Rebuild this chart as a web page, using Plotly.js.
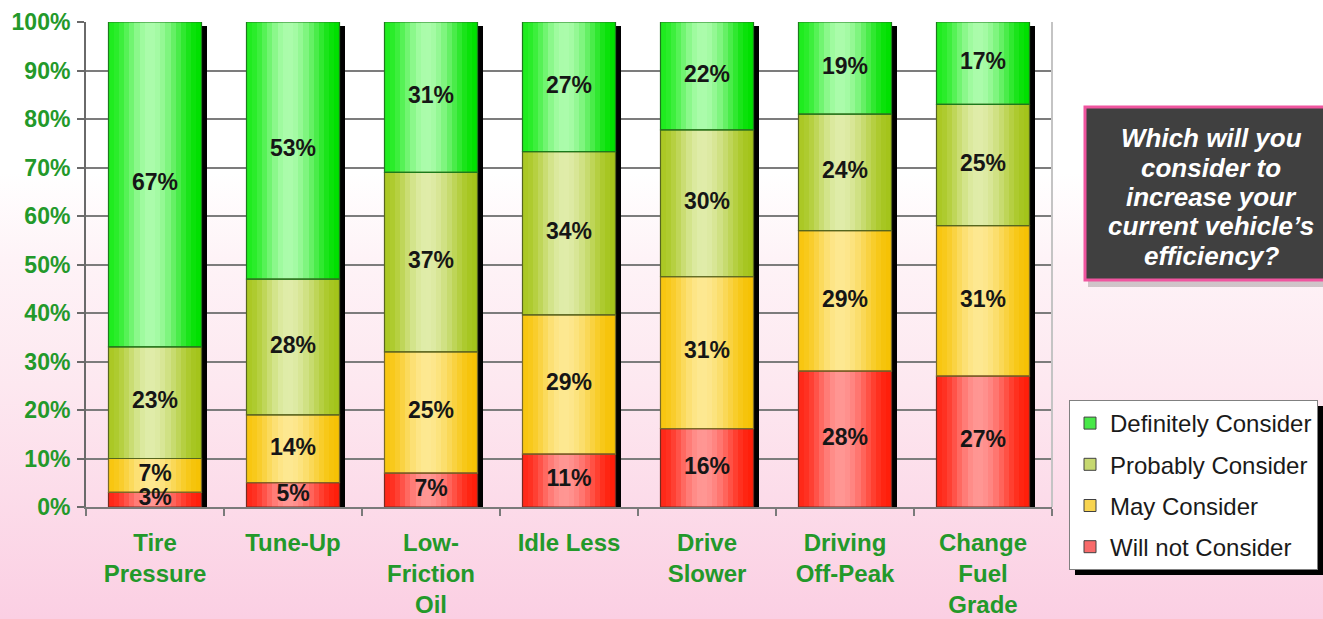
<!DOCTYPE html>
<html>
<head>
<meta charset="utf-8">
<script src="https://cdn.plot.ly/plotly-3.0.1.min.js"></script>
<style>
html, body { margin: 0; padding: 0; width: 1323px; height: 619px; overflow: hidden; }
body { background: linear-gradient(to bottom, #ffffff 0%, #ffffff 28%, #fef3f7 42%, #fde8f0 62%, #fbcfe3 100%); }
#chart { width: 1323px; height: 619px; }
</style>
</head>
<body>
<div id="chart"></div>
<script>
// ---- data ----
const categories = ['Tire<br>Pressure', 'Tune-Up', 'Low-<br>Friction<br>Oil', 'Idle Less', 'Drive<br>Slower', 'Driving<br>Off-Peak', 'Change<br>Fuel<br>Grade'];
const seriesNames = ['Will not Consider', 'May Consider', 'Probably Consider', 'Definitely Consider'];
const willNotConsider = [3, 5, 7, 11, 16, 28, 27];
const mayConsider = [7, 14, 25, 29, 31, 29, 31];
const probablyConsider = [23, 28, 37, 34, 30, 24, 25];
const definitelyConsider = [67, 53, 31, 27, 22, 19, 17];
const yTickValues = [0, 10, 20, 30, 40, 50, 60, 70, 80, 90, 100];
const questionLines = ['Which will you', 'consider to', 'increase your', 'current vehicle\u2019s', 'efficiency?'];

// ---- styles ----
const seriesValues = [willNotConsider, mayConsider, probablyConsider, definitelyConsider];
const gradients = [
  { left: [255, 40, 24], peak: [255, 150, 148], right: [255, 30, 10], line: '#7a2a20', legend: '#f86a6a' },
  { left: [248, 198, 16], peak: [253, 232, 146], right: [246, 194, 4], line: '#7a6a28', legend: '#f8d450' },
  { left: [170, 200, 36], peak: [224, 236, 170], right: [164, 196, 26], line: '#56661e', legend: '#c6d870' },
  { left: [30, 236, 30], peak: [172, 252, 172], right: [0, 224, 0], line: '#1c7a1c', legend: '#48e848' }
];
const FONT = 'Liberation Sans, Arial, sans-serif';
const GREEN_TXT = '#23992a';
const BAR_HALF = 0.337;
const NSTRIP = 18;

const nCat = categories.length;
const totals = categories.map((c, i) => seriesValues.reduce((s, arr) => s + arr[i], 0));
const normalized = seriesValues.map(arr => arr.map((v, i) => v / totals[i] * 100));
const bases = normalized.map((arr, k) => arr.map((v, i) => {
  let b = 0; for (let j = 0; j < k; j++) b += normalized[j][i]; return b;
}));

function mix(a, b, w) {
  return 'rgb(' + a.map((x, i) => Math.round(x + (b[i] - x) * w)).join(',') + ')';
}

const traces = [];

// shadow behind bars
traces.push({
  type: 'bar', x: categories,
  y: categories.map((c, i) => bases[3][i] + normalized[3][i] - 0.9),
  base: categories.map(() => 0),
  offset: BAR_HALF - 0.002, width: 0.045,
  marker: { color: '#000000', line: { width: 0 } },
  hoverinfo: 'skip', showlegend: false
});

// gradient strips
const sw = 2 * BAR_HALF / NSTRIP;
seriesValues.forEach((arr, k) => {
  const g = gradients[k];
  for (let s = 0; s < NSTRIP; s++) {
    const p = (s + 0.5) / NSTRIP;
    const peakPos = 0.45;
    let t, edge;
    if (p < peakPos) { t = p / peakPos; edge = g.left; } else { t = (1 - p) / (1 - peakPos); edge = g.right; }
    const w = Math.sin(t * Math.PI / 2);
    traces.push({
      type: 'bar', x: categories, y: normalized[k], base: bases[k],
      offset: -BAR_HALF + s * sw, width: (s === NSTRIP - 1) ? sw : sw * 1.4,
      marker: { color: mix(edge, g.peak, w * w), line: { width: 0 } },
      hoverinfo: 'skip', showlegend: false
    });
  }
});

// outlines
seriesValues.forEach((arr, k) => {
  traces.push({
    type: 'bar', x: categories, y: normalized[k], base: bases[k],
    offset: -BAR_HALF, width: 2 * BAR_HALF,
    marker: { color: 'rgba(0,0,0,0)', line: { color: gradients[k].line, width: 1.2 } },
    hoverinfo: 'skip', showlegend: false
  });
});

// value labels
seriesValues.forEach((arr, k) => {
  traces.push({
    type: 'scatter', mode: 'text', x: categories,
    y: normalized[k].map((v, i) => bases[k][i] + v / 2),
    text: arr.map(v => v + '%'),
    textposition: 'middle center',
    textfont: { family: FONT, size: 23, color: '#161616', weight: 'bold' },
    cliponaxis: false, hoverinfo: 'skip', showlegend: false
  });
});

// legend entries (top to bottom)
[3, 2, 1, 0].forEach((k, r) => {
  traces.push({
    type: 'bar', x: [categories[0]], y: [null], name: seriesNames[k],
    legendgroup: 'g' + k, legendrank: r + 1,
    marker: { color: gradients[k].legend, line: { color: '#404040', width: 1 } },
    hoverinfo: 'skip', showlegend: true
  });
});

const L = 86, R = 1052, T = 22, B = 507;
const W = R - L, H = B - T;
const px = x => (x - L) / W;
const py = y => (B - y) / H;

const annotations = questionLines.map((line, i) => ({
  xref: 'paper', yref: 'paper', x: px(1211), y: py(138 + i * 29.5), xanchor: 'center', yanchor: 'middle',
  text: line, showarrow: false,
  font: { family: FONT, size: 26, color: '#ffffff', weight: 'bold', style: 'italic' }
}));

const LEG_L = 1069, LEG_T = 400, LEG_B = 570;

const layout = {
  width: 1323, height: 619,
  margin: { l: L, r: 1323 - R, t: T, b: 619 - B, pad: 0, autoexpand: false },
  paper_bgcolor: 'rgba(0,0,0,0)', plot_bgcolor: 'rgba(0,0,0,0)',
  barmode: 'overlay', bargap: 0,
  showlegend: true,
  xaxis: {
    type: 'category', range: [-0.5, nCat - 0.5], fixedrange: true,
    tickson: 'boundaries', ticks: 'outside', ticklen: 7, tickwidth: 2, tickcolor: '#7a7a7a',
    showline: true, linecolor: '#7a7a7a', linewidth: 2, showgrid: false,
    tickfont: { family: FONT, size: 24, color: GREEN_TXT, weight: 'bold' },
    ticklabelstandoff: 13
  },
  yaxis: {
    range: [0, 100], tickvals: yTickValues, ticktext: yTickValues.map(v => v + '%'), fixedrange: true,
    ticks: 'outside', ticklen: 7, tickwidth: 2, tickcolor: '#6a6a6a',
    showline: true, linecolor: '#6a6a6a', linewidth: 2,
    showgrid: true, gridcolor: '#7c7c7c', gridwidth: 2, zeroline: false,
    tickfont: { family: FONT, size: 23, color: GREEN_TXT, weight: 'bold' },
    ticklabelstandoff: 2
  },
  legend: {
    x: px(LEG_L), y: py(LEG_T), xanchor: 'left', yanchor: 'top',
    bgcolor: '#ffffff', bordercolor: '#808080', borderwidth: 1,
    font: { family: FONT, size: 24, color: '#1a1a1a' },
    traceorder: 'grouped', tracegroupgap: 7, itemclick: false
  },
  shapes: [
    { type: 'line', xref: 'paper', yref: 'paper', x0: 1, x1: 1, y0: 0, y1: 1, line: { color: '#c4c4c4', width: 2 } },
    { type: 'rect', xref: 'paper', yref: 'paper', x0: px(LEG_L + 6), x1: px(1340), y0: py(LEG_B + 5), y1: py(LEG_T + 6), fillcolor: '#000000', line: { width: 0 } },
    { type: 'rect', xref: 'paper', yref: 'paper', x0: px(1088), x1: px(1340), y0: py(287), y1: py(111), fillcolor: 'rgba(0,0,0,0.18)', line: { width: 0 } },
    { type: 'rect', xref: 'paper', yref: 'paper', x0: px(1085), x1: px(1340), y0: py(280), y1: py(107), fillcolor: '#404040', line: { color: '#f0559f', width: 3 } }
  ],
  annotations: annotations
};

Plotly.newPlot('chart', traces, layout, { displayModeBar: false, staticPlot: true });
</script>
</body>
</html>
